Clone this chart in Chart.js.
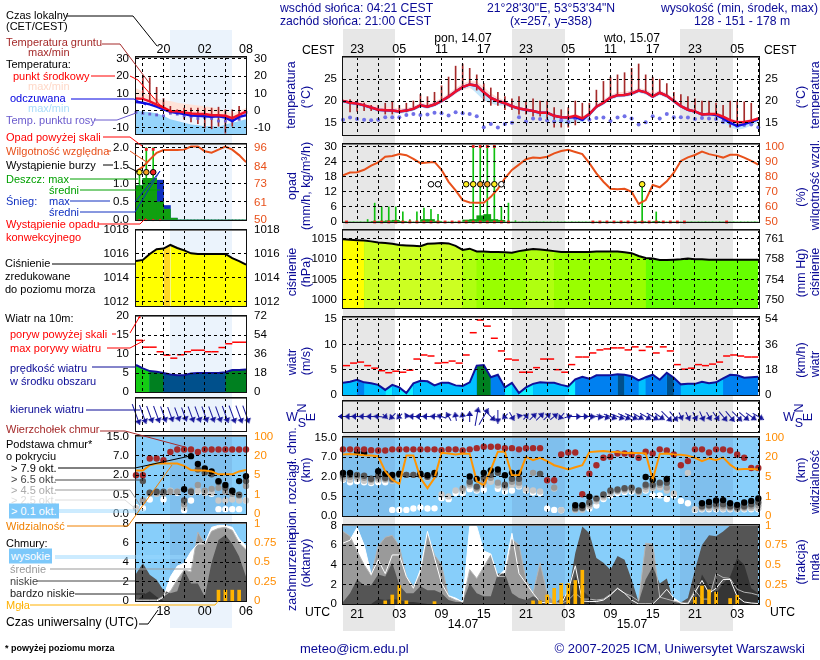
<!DOCTYPE html>
<html lang="pl">
<head>
<meta charset="UTF-8">
<title>Meteogram ICM</title>
<style>
  html, body { margin: 0; padding: 0; background: #fff; }
  #page { position: relative; width: 820px; height: 660px; overflow: hidden; font-family: "Liberation Sans", Arial, sans-serif; }
  #page div, #page svg { position: absolute; }
  .t { white-space: nowrap; font-size: 11px; line-height: 13px; z-index: 7; }
  .rot { white-space: nowrap; font-size: 12.5px; line-height: 13px; color: #0a0a96; z-index: 7; transform: translate(-50%, -50%) rotate(-90deg); }
</style>
</head>
<body>
<div id="page"></div>
<script src="https://cdn.jsdelivr.net/npm/chart.js"></script>
<script>
// osie czasu
const cestRight = ["23","","05","","11","","17","","23","","05","","11","","17","","23","","05",""];
const utcRight = ["21","","03","","09","","15","","21","","03","","09","","15","","21","","03",""];
const hoursRight = [2,5,8,11,14,17,20,23,26,29,32,35,38,41,44,47,50,53,56,59];
const cestLeft = ["","20","","02","","08"];
const utcLeft = ["","18","","00","","06"];
const hoursLeft = [1,4,7,10,13,16];

// temperatura, panel prawy (60 godzin)
const tempMid = [20,19.6,19.4,19,18.5,18,17.9,17.8,17.6,17.8,18.2,19,18.7,19.2,20,21,22.2,23.2,23.8,23.5,22,20.7,20,19.5,18.8,18.3,18,17.7,17.3,17.3,16.6,16.3,16.2,16.6,16,17,18.7,19.6,20.8,21.3,21.4,21.7,22.4,22,21,21.9,21.2,20,18.8,18,17.6,16.9,17,17,16.4,15.6,15.1,15.2,15.5,16];
const tempHi = [20.5,20.2,20,19.7,19.2,18.8,18.7,18.5,18.3,18.4,18.8,19.6,19.3,19.9,20.7,21.8,23,24,24.6,24.5,23.2,21.8,20.8,20.1,19.3,18.8,18.5,18.2,17.7,17.7,17,16.7,16.6,17,16.5,17.5,19.3,20.3,21.5,22,22.1,22.4,23,22.7,21.8,22.5,21.8,20.6,19.3,18.5,18.1,17.3,17.4,17.3,16.7,16,15.5,15.6,15.8,16.3];
const tempLo = [19.6,19.3,19,18.7,18.2,17.7,17.6,17.4,17.3,17.4,17.8,18.6,18.3,18.8,19.5,20.4,21.6,22.6,23,22,20.2,19.4,19,18.9,18.4,17.9,17.6,17.3,17,17,16.2,15.9,15.8,16.1,15.6,16.6,18.2,19.2,20.3,20.9,21,21.3,22,21.5,20.6,21.4,20.7,19.6,18.4,17.6,17.2,16.5,16.6,16.6,16,15.3,14.8,14.9,15.2,15.7];
const feltMid = [20,19.6,19.4,19,18.5,18,17.9,17.8,17.6,17.8,18.2,19,18.7,19.2,20,21,22.2,23.2,23.8,23.5,22,20.7,20,19.5,18.8,18.3,18,17.7,17.3,17.3,16.6,16.3,16.2,16.3,15.7,17,18.7,19.6,20.8,21.3,21.4,21.7,22.4,22,21,21.9,21.2,20,18.8,18,17.6,16.9,17,16.8,16,15,14.3,14.7,15.2,15.8];
const feltLo = [19.5,19.1,18.9,18.5,18,17.5,17.4,17.3,17.1,17.3,17.7,18.5,18.2,18.7,19.5,20.5,21.7,22.7,23.3,21.7,20.2,19.5,19,19,18.3,17.8,17.5,17.2,16.5,16,15.4,15,14.6,15.2,15,16.3,18.2,19.1,20.3,20.8,20.9,21.2,21.9,21.5,20.5,21.4,20.7,19.5,18.3,17.5,17.1,16.4,16.5,16.2,15.2,14,13.4,13.7,14.4,15];
const dewPoint = [15.7,16.2,15.9,15.7,15.6,15.7,16.3,16.3,16.3,16.8,17,16.8,16.9,17.3,17.2,16.7,17.4,17.2,17,16.5,14,14.7,13.9,14.7,15,16.3,15.3,16,15.9,15.5,15.3,15.5,15.2,16,15.8,15.7,16.1,16.2,15.4,16.2,16.5,16,14.6,15.1,16.5,16,17,16.3,16.3,16.2,15.9,16.1,16,15.9,15.2,15,14.3,14.5,14.6,14];
const groundMax = [null,20.3,20,19.5,19,19,19.5,19.7,19,19.5,20,21.5,21,22,23.5,25.5,28,28.5,27.5,26,24,23,22,21,20.5,21,20,20.5,20,20,18.5,18,18.5,20,19.5,19.5,22.5,24.5,25.5,26,26.5,27.5,28.5,26,25.5,25,24,22,21.5,21,20.5,20,20,19.5,19,20,20,19.8,19.5,null];
const groundMin = [null,17.5,17.6,17.8,17.8,17.7,17,17,17.5,17.5,18,19,18.5,19,20,21,22.3,23.2,23.8,22.5,20,19,19,18,18,17,17,16.5,16.5,15.5,14,14,14,14.5,15.5,16.5,18.5,19.6,20.8,21.3,21.5,21.7,22.4,22,21,21.9,21,20,18.8,18,17.6,17,17,16.5,15.5,14,15,15.2,15.5,null];

// opad i wilgotnosc, panel prawy
const humidity = [81,82.8,83,84.6,87.4,89.5,93.3,93.8,95,94.3,91.8,89,89.5,89.8,84.5,76.6,71,64.5,63,62.8,62.7,66.7,72,79,84.5,88,91.6,92.8,92.4,93.3,95.5,97,97.8,96.4,95,89,82.2,76.7,72,71.7,72,70,62,64.5,74.5,73,77,82.7,90.5,92.8,94.4,96.7,95,94,92.7,94.6,94.6,92.7,90.5,88];
const rainMax = [0,0,0,1,7.5,6,6,6,4,1,4,5.5,5,3,0,0,0,0,31,31,31,31,6,7.5,0.5,0,0,0,0,0,0,0,0,0,0,0,0,0,0,0,0,0,14,0,4,0,0,0,0,0,0,0,0,0,0,0,0,0,0];
const rainMean = [0,0,0,0,0.1,0.3,0.5,0.7,0.1,0,0,1,1,0.3,0,0,0,0.8,1,2.5,3,1,0.7,0,0,0,0,0,0,0,0,0,0,0,0,0,0,0,0,0,0,0,0.2,0,0.1,0,0,0,0,0,0,0,0,0,0,0,0,0,0];
const overScale = [18,19,20,21];
const convective = [0,4,5,6,7,8,9,10,11,12,13,14,15,16,17,18,19,20,21,22,23,35,36,37,38,39,40,41,42,43,44,45,46,47,48,54];
const stormHours = [12,13,17,18,19,20,21,22,42];
const stormColors = ["#fff","#fff","#ffee22","#ffee22","#f0a020","#f0a020","#ffee22","#fff","#ffee22"];

// cisnienie, panel prawy
const pressure = [1014.9,1014.8,1014.7,1014.6,1014.4,1014.1,1014,1013.8,1013.5,1013.4,1013.3,1013.2,1013.8,1013.9,1014,1013.9,1013.3,1012.3,1012.6,1011.9,1011.9,1011.8,1011.8,1011.7,1011.6,1012,1012.3,1012.5,1012.4,1012.2,1012,1011.8,1011.8,1011.8,1011.8,1011.8,1011.9,1011.9,1011.9,1011.9,1011.7,1011.5,1010.8,1010.3,1010.2,1009.8,1009.8,1009.9,1010,1010.2,1010,1010,1009.9,1009.9,1009.9,1009.9,1009.9,1009.9,1009.9,1009.9];

// wiatr, panel prawy
const wind = [2.4,2.6,3,2.5,2.3,2,1,2,1.5,0.4,2.3,2.8,2.7,1.9,2.4,2.4,1.9,1.8,2.5,5.8,5.9,3.5,4,1.5,2.4,0.4,1.5,2.2,2.5,2.4,2.4,2,1.7,3.1,3.6,3.2,3.9,3.9,3.9,4.1,4,3.7,2.9,3.5,4,3,4.4,3.4,2.1,2.2,2.2,2.6,2.3,2.5,3.3,4,3.9,3.4,3.5,3.6];
const gusts = [5.8,6.3,6.5,5.8,5.3,4.8,4.4,4.7,4.5,4.9,7.1,7.9,7.7,6.3,6.4,6.7,6.3,7.9,12.3,14.8,13.6,11.2,8.7,7.1,6.9,4.5,4.5,5.4,7.1,7.1,5,4.5,6,7.5,7.5,8.3,8.9,9.1,9.3,9.3,8.9,9.5,8.8,9.5,8.3,9.5,8.7,6,5.1,5.3,6,5.8,6.1,6.5,7.7,7.9,7.7,7.5,7.5];
const windFrom = [90,90,92,92,92,95,315,45,45,30,92,90,92,95,110,150,170,170,180,190,210,315,0,45,330,20,220,225,225,225,230,40,250,270,270,275,280,285,290,290,295,295,300,300,300,305,315,320,335,335,335,335,330,325,320,320,315,310,305,300];

// chmury, panel prawy: wartosci w jednostkach osi (0=0, 1=0.5, 2=2, 3=7, 4=15 km)
const cloudTop = [3.4,3.4,3.4,3.4,3.36,3.34,3.34,3.4,3.4,3.4,3.4,3.4,3.4,3.4,3.36,3.4,3.4,3.34,3.4,3.46,3.53,3.53,3.53,3.46,3.46,3.4,3.46,3.46,3.46,1.82,1.82,3.14,3.24,3.24,1.11,2.16,2.59,2.97,3.02,3.19,3.19,3.14,2.97,3.28,3.19,3.4,3.34,3.14,2.59,2.8,3.4,3.4,3.24,3.4,3.4,3.34,3.14,2.97,2.45,2.45];
const cloudBlack = [2.2,2.2,3.26,3.22,null,2.28,2.16,2.09,2.16,null,null,2.16,2.08,2.2,null,null,null,null,2.02,1.89,2.2,2.33,2.37,2.08,2.2,2.2,null,null,null,null,null,null,null,0.55,0.55,0.99,null,null,null,null,null,null,null,1.99,1.85,null,1.89,null,null,null,null,0.65,0.72,0.79,0.81,0.65,0.57,0.69,0.77,0.89];
const cloudDark = [2.1,2.1,2.1,2.05,1.9,2.05,1.95,1.9,2.1,2.1,2.1,2.1,2,2.1,null,null,null,null,1.75,1.5,1.95,2.1,2.2,1.6,1.9,1.9,null,null,2.15,null,null,null,null,0.4,0.42,0.7,0.9,1.1,1.3,1.35,1.42,1.45,1.3,1.6,1.6,1.7,1.7,null,null,null,null,0.5,0.55,0.6,0.6,0.5,0.45,0.5,0.6,0.7];
const cloudMid = [2,2,2,1.95,1.85,1.95,1.9,1.85,2.1,2.1,2.1,2.08,2,2.1,null,null,null,1.4,1.65,1.42,1.75,1.95,1.7,1.55,1.75,1.7,null,2.2,2.15,null,1.45,null,null,0.35,0.38,0.6,0.85,1.05,1.25,1.3,1.38,1.4,1.25,1.5,1.5,1.6,1.45,null,null,null,null,0.45,0.5,0.5,0.5,0.45,0.4,0.45,0.5,0.55];
const cloudLight = [1.9,1.85,1.9,1.8,1.75,1.85,1.85,1.8,null,2.1,2.1,null,1.95,null,1.1,1,1.3,1.3,1.55,1.35,1.6,1.75,1.55,1.45,1.6,1.55,1.35,1.3,1.25,null,1.4,0.3,null,0.3,0.32,0.5,0.75,0.95,1.15,1.25,1.3,1.33,1.2,1.35,1.4,1.45,1.3,1.15,null,2.2,0.35,0.38,0.4,0.4,0.38,0.38,0.35,0.38,0.4,0.4];
const cloudWhite = [1.85,1.72,1.77,1.72,1.68,1.72,1.72,0.31,0.31,0.31,0.38,0.43,0.38,0.39,0.91,0.86,1.17,1.17,1.37,1.3,1.34,1.85,1.39,1.25,1.3,1.51,1.3,1.2,1.17,0.38,0.31,0.29,null,null,null,0.38,0.53,0.87,1.05,1.17,1.23,1.25,1.27,1.3,1.05,1.05,0.87,1.05,0.77,0.65,0.31,0.34,0.34,0.34,0.34,0.34,0.34,0.34,0.34,0.34];
const visibility = [3.14,3.16,3.14,3.1,3.09,3.05,2.28,1.85,1.63,3.09,3.09,1.94,1.42,1.94,3.22,3.19,3.14,3.19,3.17,1.77,1.56,2.37,3.28,3.28,2.08,2.08,3.02,2.85,2.97,2.8,2.59,2.49,2.37,2.49,2.59,3.26,3.29,3.31,3.28,3.26,3.22,3.22,3.22,3.19,1.85,3.17,3.19,3.14,3.12,3.07,2.97,2.8,2.94,2.85,2.99,2.62,2.37,2.4,2.4,2.37];

// zachmurzenie, panel prawy (oktanty), mgla (frakcja)
const cloudHigh = [6.2,6.5,7.8,6,3,4.5,3.1,5,5,2.8,1.6,3.5,7.4,4.7,2.1,0.85,0.6,0.2,7.9,7.9,5.4,5.1,2.8,3.5,7.2,3.1,2.1,1.1,0.2,0.1,0,0,1.4,3.9,0.3,0.25,0.25,0.4,0.9,1.6,1.1,0.4,0,0,0,0.7,1.5,0.6,0.1,0,1.2,2.4,1.1,1.6,2.5,2.5,0.75,0.2,0.1,0.05];
const cloudMed = [7.4,6.9,5.4,4,2.9,5.9,6.8,7,5.9,2.8,1.8,3.1,7.2,5,4,0.75,0.4,0.2,3.5,2.6,3.8,5,2.8,2.8,6.6,6,2.5,1.1,4.2,1.1,0.2,0.05,0.4,1.1,0.5,0.5,0.4,0.5,1,1.6,1.1,0.8,0.3,6.2,6.1,0.7,0.5,0.3,0.1,0.1,1.4,0.5,0.5,3.1,2.7,2.6,1.5,1.2,1.1,0.9];
const cloudLow = [0.2,1.1,2.5,1.9,1.9,3,2.8,4.2,1.9,1.1,1.1,1.8,1.4,1.4,1.1,0.4,0.2,0.2,2.1,1.1,0.8,0.8,3.1,3.1,1.1,0.6,0.4,0.8,0.4,0.1,0,0.6,1.1,5.2,7.9,7.2,4.7,4.2,3.5,4.9,4.5,2.5,0.2,2.5,3.8,2.1,2.6,0.2,0.15,0.6,3.5,6,7,6.9,7.4,8,8,8,8,8];
const cloudVeryLow = [0,0,0,0,0,0.5,0.4,0.5,0.4,0.2,0.2,0.1,0,0,0,0,0,0,0,0,0,0,0,0,0,0,0,0,0,0,0,0,0,2.8,1.4,0.7,0,0,0,0,0,0,0,0,0,0,0,0,0,0,0.3,3,1.8,1.1,2.1,2.8,4.7,4,1.6,1.1];
const fogHours = [6,7,8,9,13,27,28,29,30,31,32,33,34,50,51,52,53,55,56];
const fogValues = [0.04,0.115,0.235,0.04,0.03,0.04,0.04,0.115,0.2,0.26,0.26,0.3,0.43,0.085,0.23,0.18,0.15,0.07,0.11];

// panel lewy (legenda, 17 godzin)
const tempMidL = [7,6.8,5.4,3.5,1.8,-0.3,-0.4,-1,-1.7,-2,-2,-2.6,-2.6,-3,-4.3,-2.4,-0.5];
const feltMidL = [5,4.6,3.6,2.3,0.7,-0.7,-1.3,-2,-2.8,-3,-3.2,-3.5,-3.3,-4,-6,-3.6,-2.7];
const tempHiL = [13,11,8.5,7,6,5.5,4.5,4,3.5,3,2.5,2,1,0,-2,0,1.5];
const feltHiL = [0,-0.5,-1,-1.5,-3,-5,-6,-7,-8,-8.5,-9,-9,-9.5,-8,-7,-6,-5];
const feltLoL = [-13.5,-13.5,-13.5,-13.5,-13.5,-13.5,-13.5,-13.5,-13.5,-13.5,-13.5,-13.5,-13.5,-13.5,-13.5,-13.5,-13.5];
const dewPointL = [-1,-1.5,-2,-2.5,-3,-1.5,-2,-3,-3.5,-4.5,-4,-4.5,-6,-6,-6,-5,-1];
const groundMaxL = [null,20,19,13.5,7,2.5,0.5,1.5,1.5,1.5,1.5,1.5,2,0.5,0.5,2.5,null];
const groundMinL = [null,6.5,5,3,1,-1,-2,-5,-6.5,-7.5,-10,-10.5,-9,-13,-9,-4,null];
const humidityL = [81,84,88.6,93,94.7,94.7,94.7,95,97,97,94,93,95,97,95,91.5,87];
const rainMeanL = [0.95,1.15,1.15,0.5,0.3,0.05,0,0,0,0,0,0,0,0,0,0];
const snowMeanL = [0,0,0,0.6,0.1,0,0,0,0,0,0,0,0,0,0,0];
const rainMaxL = [1.3,2,2,0,0,0,0,0,0,0,0,0,0,0,0,0];
const stormHoursL = [0,1,2];
const stormColorsL = ["#ffee22","#f0a020","#ee2020"];
const convectiveL = [0,1,2,3];
const pressureL = [1015.4,1015.5,1016,1016.4,1016.45,1016.75,1016.5,1016.3,1016.05,1016,1016,1016,1016,1016,1015.65,1015.4,1015.1];
const windL = [7.1,6.2,5.5,5.3,5,4.6,4.4,4.4,4.9,5,5,5,5,5.2,5.8,5.8,5.9];
const gustsL = [13.6,11.8,11.8,10.6,9.7,8.9,9.8,10.6,11,11,10.6,10.6,11.7,12.7,13.1,13.1];
const windFromL = [340,340,340,340,340,340,340,340,340,340,340,340,340,340,340,340,340];
const cloudTopL = [2,2,2.87,2.87,2.78,3.2,3.33,3.33,3.33,3.2,3.33,3.33,3.33,3.33,3.33,3.33,3.33];
const cloudBlackL = [null,null,null,null,null,null,null,1.28,2.99,2.58,2.35,2.2,1.7,1.5,1.2,1.7,1.95];
const cloudDarkL = [null,1.7,1.1,1.15,1.15,null,null,0.7,1.15,2.3,2.15,2.05,1.65,1.35,1.15,1,1.7];
const cloudMidL = [null,0.7,1.1,1.1,1.1,1.15,1.15,0.5,1.2,1.5,1.2,1.3,1.35,1.15,1.05,0.95,1.45];
const cloudLightL = [0.3,0.65,1.05,1.05,1.05,1.2,1.15,0.35,1.1,1.2,1.1,1.1,0.7,0.7,0.75,0.7,0.7];
const cloudWhiteL = [0.35,0.3,0.75,null,0.75,1.15,1.1,0.2,0.7,1.15,1.1,1.05,0.25,0.25,0.25,0.25,0.7];
const visibilityL = [2.25,2.25,2.52,2.61,2.61,2.61,2.61,2.49,2.27,2.25,2.25,2.2,2.05,2.05,2.05,2.2,2.27];
const cloudHighL = [0,0,0,0,0.4,2.5,3.6,3.9,5.1,5.9,5.9,7.6,7.8,7.8,7.6,6.4,5.7];
const cloudMedL = [0.1,0.1,0.1,0.1,0.5,1,2.2,3.2,3,7.1,5.9,7.2,7.5,7.6,7.3,6,5.3];
const cloudLowL = [2.8,3.9,2.7,2.2,1.1,0.8,1,3.2,1.8,1.8,0.45,4,6.3,6.8,5.9,4.6,2.5];
const cloudVeryLowL = [0,0.6,1,0.45,0,0,0,0,0,0,0,0,0,0,0,0,0];
const fogHoursL = [12,13,14,15];
const fogValuesL = [0.14,0.14,0.14,0.14];

// teksty i kreski legendy: [tekst, x, y, kolor]
const labels = [
  ["Czas lokalny",6,15,"#000"],["(CET/CEST)",6,26,"#000"],
  ["Temperatura gruntu",6,42,"#a52a2a"],["max/min",28,52,"#a52a2a"],
  ["Temperatura:",6,64,"#000"],["punkt środkowy",13,76,"#f00"],["max/min",28,86,"#ffd8c8"],
  ["odczuwana",10,98,"#0000e0"],["max/min",28,108,"#a8dcfa"],["Temp. punktu rosy",6,120,"#6a5acd"],
  ["Opad powyżej skali",6,137,"#f00"],["Wilgotność względna",6,151,"#e8501a"],["Wystąpienie burzy",6,165,"#000"],
  ["Deszcz:  max",6,179,"#00a000"],["średni",49,190,"#00a000"],["Śnieg:",6,201,"#1030c0"],["max",49,201,"#1030c0"],["średni",49,212,"#1030c0"],
  ["Wystąpienie opadu",6,224,"#f00"],["konwekcyjnego",6,237,"#f00"],
  ["Ciśnienie",5,263,"#000"],["zredukowane",5,276,"#000"],["do poziomu morza",5,289,"#000"],
  ["Wiatr na 10m:",5,318,"#000"],["poryw powyżej skali",10,334,"#f00"],["max porywy wiatru",10,348,"#f00"],
  ["prędkość wiatru",10,368,"#0a0a96"],["w środku obszaru",10,381,"#0a0a96"],["kierunek wiatru",10,409,"#0a0a96"],
  ["Wierzchołek chmur",6,429,"#a52a2a"],["Podstawa chmur*",6,444,"#000"],["o pokryciu",6,456,"#000"],
  ["> 7.9 okt.",11,468,"#000"],["> 6.5 okt.",11,479,"#444"],["> 4.5 okt.",11,490,"#aaa"],["> 2.5 okt.",11,500,"#ddd"],
  ["Widzialność",6,526,"#f08000"],["Chmury:",6,543,"#000"],["średnie",10,569,"#999"],["niskie",10,581,"#444"],["bardzo niskie",10,593,"#222"],
  ["Mgła",6,605,"#ffb000"]
];
const headers = [
  ["wschód słońca: 04:21 CEST",280,8,"#0a0a96"],["zachód słońca: 21:00 CEST",280,21,"#0a0a96"],
  ["Czas uniwersalny (UTC)",6,622,"#000"],["CEST",302,50,"#000"],["CEST",764,50,"#000"],["UTC",305,612,"#000"],["UTC",770,612,"#000"]
];
const centered = [
  ["21°28'30\"E, 53°53'34\"N",551,8,"#0a0a96"],["(x=257, y=358)",551,21,"#0a0a96"],
  ["128 - 151 - 178 m",742,21,"#0a0a96"],
  ["pon, 14.07",463,38,"#000"],["wto, 15.07",632,38,"#000"],["14.07",463,624,"#000"],["15.07",632,624,"#000"]
];
const rotated = [
  ["temperatura",291,95],["(°C)",306,97],["(°C)",801,97],["temperatura",815,95],
  ["opad",292,186],["(mm/h, kg/m³/h)",306,186],["(%)",801,197],["wilgotność wzgl.",815,185],
  ["ciśnienie",292,272],["(hPa)",306,272],["(mm Hg)",801,273],["ciśnienie",815,272],
  ["wiatr",292,362],["(m/s)",306,361],["(km/h)",801,360],["wiatr",815,364],
  ["pion. rozciągł. chm.",292,481],["(km)",306,470],["(km)",801,470],["widzialność",815,482],
  ["zachmurzenie",292,572],["(oktanty)",306,563],["(frakcja)",801,562],["mgła",815,567]
];
const leaders = [
  ["#000","66,16 133,16 157,46"],["#a52a2a","102,44 120,44 150,84"],["#f00","91,76 115,76"],["#f00","130,76 138,80 160,105 172,112"],
  ["#0000e0","71,99 134,99 146,105"],["#6a5acd","94,120 117,120 136,113"],["#f00","103,137 130,137 142,146"],
  ["#e8501a","107,151 111,151"],["#e8501a","130,151 148,163"],["#000","103,165 113,165"],["#000","128,167 138,172"],
  ["#00a000","70,179 138,179"],["#00a000","80,190 160,190"],["#1030c0","70,201 110,201"],["#1030c0","135,202 160,171"],["#1030c0","80,212 135,212 160,171"],
  ["#f00","98,224 140,224 146,218"],["#000","52,264 135,264"],["#f00","112,334 116,334"],["#f00","130,333 140,316"],["#f00","107,348 130,348 145,340"],
  ["#0a0a96","92,367 136,367"],["#0a0a96","86,410 140,410"],["#a52a2a","100,431 125,431 185,447"],["#000","58,468 135,468 190,456"],
  ["#444","55,480 143,480"],["#999","55,490 130,490 140,505"],["#ddd","55,500 125,500 137,510"],["#9ad8ff","55,510 145,510"],["#9ad8ff","55,512 145,512"],
  ["#f08000","67,526 128,526 172,465"],["#9ad8ff","55,556 185,556"],["#9ad8ff","55,558 185,558"],["#999","50,569 193,569"],["#444","37,581 135,581"],
  ["#222","75,594 145,594"],["#ffb000","30,605 215,605 219,600"],["#000","139,624 148,624 158,610"]
];

const page = document.getElementById("page");

function box(x, y, w, h, css, z) {
  const d = document.createElement("div");
  d.style.cssText = "left:" + x + "px;top:" + y + "px;width:" + w + "px;height:" + h + "px;z-index:" + z + ";" + css;
  page.appendChild(d);
  return d;
}

// pasy nocy
box(170, 30, 62, 598, "background:#ebf3fc", 1);
[[343,395],[512,565],[680,733]].forEach(b => box(b[0], 29, b[1] - b[0], 602, "background:#e7e7e7", 1));

const pts = (arr, off) => arr.map((v, i) => ({x: i + (off || 0), y: v}));
const at = (hours, arr, off) => hours.map((h, i) => ({x: h + (off || 0), y: arr[i]}));
const floats = (lo, hi) => lo.map((v, i) => ({x: i, y: v === null ? null : [v, hi[i]]}));

const line = (data, color, width, extra) => Object.assign({type: "line", data: data, borderColor: color, borderWidth: width, pointRadius: 0, tension: 0, fill: false}, extra);
const area = (data, color, extra) => line(data, "transparent", 0, Object.assign({fill: "start", backgroundColor: color}, extra));
const dots = (data, color, radius, extra) => line(data, color, 0, Object.assign({showLine: false, pointRadius: radius, pointBackgroundColor: color, pointBorderColor: color, pointBorderWidth: 0, clip: false}, extra));
const bars = (data, color, width, extra) => Object.assign({type: "bar", data: data, backgroundColor: color, barThickness: width, grouped: false}, extra);

function arrowImage(len) {
  const c = document.createElement("canvas");
  c.width = 7; c.height = len;
  const g = c.getContext("2d");
  g.strokeStyle = g.fillStyle = "#14149a";
  g.lineWidth = 1;
  g.beginPath(); g.moveTo(3.5, 0); g.lineTo(3.5, len); g.stroke();
  g.beginPath(); g.moveTo(3.5, len); g.lineTo(0, len - 5); g.lineTo(7, len - 5); g.closePath(); g.fill();
  return c;
}
const arrows = (speed, from) => dots(pts(speed.map(() => 0)), "#14149a", 2, {
  pointStyle: speed.map(s => arrowImage(Math.round(s * 2.6) + 4)), pointRotation: from
});

const windColor = s => s < 1.8 ? "#10f0ff" : s < 3 ? "#00c0ff" : s < 4.05 ? "#0080f0" : s < 5.2 ? "#00508c" : s < 6.1 ? "#008020" : "#14cc14";
const pressColor = p => p >= 1014.7 ? "#ffff00" : p >= 1013 ? "#ccff22" : p >= 1012.1 ? "#b0ff10" : p >= 1010.5 ? "#99ff00" : "#66ff00";
const pressColorL = (p, q) => q > 1016.7 ? "#ffd822" : "#ffff00";

function panel(cfg) {
  // zapas nad i pod osia, zeby etykiety ticków nie zwezaly obszaru wykresu
  const margin = 46, topPad = 18, botPad = 18;
  const xH = cfg.xLabels ? 19 : 0;
  const holder = box(cfg.x - margin, cfg.y - topPad - (cfg.xPos === "top" ? xH : 0), cfg.w + 2 * margin, cfg.h + topPad + botPad + xH, "", 4);
  const canvas = document.createElement("canvas");
  canvas.width = cfg.w + 2 * margin;
  canvas.height = cfg.h + topPad + botPad + xH;
  holder.appendChild(canvas);
  canvas.style.display = "block";
  box(cfg.x - 1, cfg.y - 1, cfg.w, cfg.h, "border:1px solid #111;box-shadow:inset 0 1px #777", 5);

  const n = cfg.datasets.length;
  cfg.datasets.forEach((d, i) => { d.order = n - i; d.xAxisID = "x"; d.yAxisID = d.yAxisID || "y"; });

  const yAxis = (ax, pos, grid) => ({
    position: pos, min: ax.min, max: ax.max,
    grid: grid ? {display: true, color: "#000", z: 1, drawTicks: false, offset: false} : {display: false, drawTicks: false},
    border: {display: false, dash: [3, 3]},
    afterFit: s => { s.width = margin; },
    afterBuildTicks: s => { s.ticks = ax.ticks.map(v => ({value: v})); },
    ticks: {autoSkip: false, color: ax.color || "#000", padding: ax.pad || 4, font: {family: "Liberation Sans", size: 11.5}, callback: (v, i) => ax.labels[i]}
  });

  new Chart(canvas, {
    type: "line",
    data: {datasets: cfg.datasets},
    options: {
      responsive: false, animation: false, events: [], parsing: {xAxisKey: "x", yAxisKey: "y"},
      layout: {padding: {top: topPad, bottom: botPad, left: 0, right: 0}, autoPadding: false},
      plugins: {legend: {display: false}, tooltip: {enabled: false}},
      scales: {
        x: {
          type: "linear", offset: false, position: cfg.xPos || "bottom", min: 0, max: cfg.xMax,
          grid: {display: true, color: "#000", z: 1, drawTicks: false, offset: false},
          border: {display: false, dash: [3, 3]},
          afterFit: s => { s.height = xH; },
          afterBuildTicks: s => { s.ticks = cfg.xTicks.map(v => ({value: v})); },
          ticks: {display: !!cfg.xLabels, autoSkip: false, maxRotation: 0, padding: cfg.xPos === "top" ? 0 : 3, color: "#000", font: {family: "Liberation Sans", size: 12.5}, callback: (v, i) => cfg.xLabels ? cfg.xLabels[i] : ""}
        },
        y: yAxis(cfg.left, "left", true),
        y2: yAxis(cfg.right, "right", false)
      }
    }
  });
}

const cloudLabels = ["0.0","0.5","2.0","7.0","15.0"];
const visLabels = ["0","1","5","20","100"];
const levels = [0,1,2,3,4];
const fogTicks = [0,2,4,6,8];
const R = {x: 343, w: 416, xMax: 59.1, xTicks: hoursRight};
const L = {x: 136, w: 110, xMax: 16, xTicks: hoursLeft};

// temperatura
panel(Object.assign({}, R, {y: 57, h: 78, xPos: "top", xLabels: cestRight,
  left: {min: 12.2, max: 30.1, ticks: [15,20,25], labels: ["15","20","25"], pad: 6},
  right: {min: 12.2, max: 30.1, ticks: [15,20,25], labels: ["15","20","25"], pad: 6},
  datasets: [
    line(pts(tempLo), "transparent", 0),
    line(pts(tempHi), "transparent", 0, {fill: {target: 0}, backgroundColor: "#ffdcd6"}),
    line(pts(feltLo), "transparent", 0),
    line(pts(feltMid), "transparent", 0, {fill: {target: 2}, backgroundColor: "#c4e6fb"}),
    bars(floats(groundMin, groundMax), "#a52a2a", 1),
    dots(pts(dewPoint), "#7070e8", 2),
    line(pts(feltMid), "#1010e0", 2.5),
    line(pts(tempMid), "#f0102a", 2.5)
  ]}));
panel(Object.assign({}, L, {y: 57, h: 77, xPos: "top", xLabels: cestLeft,
  left: {min: -13.5, max: 31, ticks: [-10,0,10,20,30], labels: ["-10","0","10","20","30"], pad: 7},
  right: {min: -13.5, max: 31, ticks: [-10,0,10,20,30], labels: ["-10","0","10","20","30"], pad: 8},
  datasets: [
    line(pts(tempMidL), "transparent", 0),
    line(pts(tempHiL), "transparent", 0, {fill: {target: 0}, backgroundColor: "#ffe2d8"}),
    line(pts(feltLoL), "transparent", 0),
    line(pts(feltHiL), "transparent", 0, {fill: {target: 2}, backgroundColor: "rgba(130,205,250,.85)"}),
    bars(floats(groundMinL, groundMaxL), "#a52a2a", 1),
    dots(pts(dewPointL), "#6a5acd", 2, {pointStyle: "rect"}),
    line(pts(feltMidL), "#1010e0", 2.5),
    line(pts(tempMidL), "#f0102a", 2.5)
  ]}));

// opad
panel(Object.assign({}, R, {y: 144, h: 78,
  left: {min: 0, max: 31, ticks: [0,6,12,18,24,30], labels: ["0","6","12","18","24","30"], pad: 6},
  right: {min: 50, max: 101.7, ticks: [50,60,70,80,90,100], labels: ["50","60","70","80","90","100"], color: "#e8501a", pad: 6},
  datasets: [
    bars(pts(rainMax, 0.5), "#10c010", 1),
    bars(pts(rainMean, 0.5), "#10a010", 7),
    dots(at(convective, convective.map(() => 0), 0.5), "#ee2020", 2, {pointStyle: "rect"}),
    dots(at(overScale, overScale.map(() => 30), 0.5), "#ee2020", 2, {pointStyle: "rect"}),
    line(pts(humidity), "#e8501a", 2, {yAxisID: "y2"}),
    dots(at(stormHours, stormHours.map(() => 15), 0.5), "#000", 2.8, {pointBackgroundColor: stormColors, pointBorderColor: "#000", pointBorderWidth: 1})
  ]}));
panel(Object.assign({}, L, {y: 144, h: 76,
  left: {min: 0, max: 2.1, ticks: [0,0.5,1,1.5,2], labels: ["0.0","0.5","1.0","1.5","2.0"], pad: 7},
  right: {min: 50, max: 98.6, ticks: [50,61,73,84,96], labels: ["50","61","73","84","96"], color: "#e8501a", pad: 8},
  datasets: [
    bars(pts(rainMaxL, 0.5), "#10c010", 1),
    bars(pts(snowMeanL.map((s, i) => s + rainMeanL[i]), 0.5), "#1030c0", 7),
    bars(pts(rainMeanL, 0.5), "#10a010", 7),
    dots(at(convectiveL, convectiveL.map(() => 0), 0.5), "#ee2020", 1.5, {pointStyle: "rect"}),
    dots(at([1,2], [1.95,1.95], 0.5), "#ee2020", 2, {pointStyle: "rect"}),
    line(pts(humidityL), "#e8501a", 2, {yAxisID: "y2"}),
    dots(at(stormHoursL, [1.32,1.32,1.32], 0.5), "#000", 2.8, {pointBackgroundColor: stormColorsL, pointBorderColor: "#000", pointBorderWidth: 1})
  ]}));

// cisnienie
panel(Object.assign({}, R, {y: 230, h: 78,
  left: {min: 998, max: 1017.2, ticks: [1000,1005,1010,1015], labels: ["1000","1005","1010","1015"], pad: 6},
  right: {min: 998, max: 1017.2, ticks: [1000,1005,1010,1015], labels: ["750","754","758","761"], pad: 6},
  datasets: [
    area(pts(pressure), "#99ff00"),
    area(pts(pressure), "#99ff00", {segment: {backgroundColor: c => pressColor(c.p0.parsed.y)}}),
    line(pts(pressure), "#000", 2)
  ]}));
panel(Object.assign({}, L, {y: 230, h: 76,
  left: {min: 1011.65, max: 1018, ticks: [1012,1014,1016,1018], labels: ["1012","1014","1016","1018"], pad: 7},
  right: {min: 1011.65, max: 1018, ticks: [1012,1014,1016,1018], labels: ["1012","1014","1016","1018"], pad: 8},
  datasets: [
    area(pts(pressureL), "#ffff00", {segment: {backgroundColor: c => pressColorL(c.p0.parsed.y, c.p1.parsed.y)}}),
    line(pts(pressureL), "#000", 2)
  ]}));

// wiatr
panel(Object.assign({}, R, {y: 317, h: 78,
  left: {min: 0, max: 15.4, ticks: [0,5,10,15], labels: ["0","5","10","15"], pad: 6},
  right: {min: 0, max: 15.4, ticks: [0,5,10,15], labels: ["0","18","36","54"], pad: 6},
  datasets: [
    area(pts(wind), "#0098f8"),
    area(pts(wind), "#00c0ff", {segment: {backgroundColor: c => windColor(c.p0.parsed.y)}}),
    line(pts(wind), "#10109a", 2),
    dots(pts(gusts, 0.5), "#f00", 3.5, {pointStyle: "line", pointBorderColor: "#f00", pointBorderWidth: 1.5})
  ]}));
panel(Object.assign({}, L, {y: 316, h: 76,
  left: {min: 0, max: 20, ticks: [0,5,10,15,20], labels: ["0","5","10","15","20"], pad: 7},
  right: {min: 0, max: 20, ticks: [0,5,10,15,20], labels: ["0","18","36","54","72"], pad: 8},
  datasets: [
    area(pts(windL), "#00508c"),
    area(pts(windL), "#00508c", {segment: {backgroundColor: c => windColor(c.p0.parsed.y)}}),
    line(pts(windL), "#10109a", 2),
    dots(pts(gustsL, 0.5), "#f00", 3.5, {pointStyle: "line", pointBorderColor: "#f00", pointBorderWidth: 1.5}),
    dots(at([0], [19.7], 0.5), "#f00", 1.5, {pointStyle: "rect"})
  ]}));

// kierunek wiatru
panel(Object.assign({}, R, {y: 401, h: 31,
  left: {min: -1, max: 1, ticks: [], labels: []},
  right: {min: -1, max: 1, ticks: [], labels: []},
  datasets: [arrows(wind, windFrom)]}));
panel(Object.assign({}, L, {y: 398, h: 33,
  left: {min: -1, max: 1, ticks: [], labels: []},
  right: {min: -1, max: 1, ticks: [], labels: []},
  datasets: [arrows(windL, windFromL)]}));

// tlo panelu chmur
[[343,437,416,79],[343,525,416,79],[136,436,110,78],[136,523,110,78]].forEach(p => box(p[0], p[1], p[2], p[3], "background:#87cefa", 2));
[[343,395,437,79],[512,565,437,79],[680,733,437,79],[343,395,525,79],[512,565,525,79],[680,733,525,79],[170,232,436,78],[170,232,523,78]].forEach(b =>
  box(b[0], b[2], b[1] - b[0], b[3], "background:rgba(60,60,130,.1)", 3));

// podstawa chmur
function cloudDatasets(white, light, mid, dark, black, top, vis) {
  return [
    dots(pts(white), "#fff", 3.2),
    dots(pts(light), "#c8c8c8", 3.2),
    dots(pts(mid), "#999", 3.2),
    dots(pts(dark), "#555", 3.2),
    dots(pts(black), "#000", 3.2),
    dots(pts(top), "#a52a2a", 3.2),
    line(pts(vis), "#ff9400", 2, {yAxisID: "y2"})
  ];
}
panel(Object.assign({}, R, {y: 437, h: 79,
  left: {min: 0, max: 4.03, ticks: levels, labels: cloudLabels, pad: 6},
  right: {min: 0, max: 4.03, ticks: levels, labels: visLabels, color: "#ff8c00", pad: 6},
  datasets: cloudDatasets(cloudWhite, cloudLight, cloudMid, cloudDark, cloudBlack, cloudTop, visibility)}));
panel(Object.assign({}, L, {y: 436, h: 78,
  left: {min: 0, max: 4.03, ticks: levels, labels: cloudLabels, pad: 7},
  right: {min: 0, max: 4.03, ticks: levels, labels: visLabels, color: "#ff8c00", pad: 8},
  datasets: cloudDatasets(cloudWhiteL, cloudLightL, cloudMidL, cloudDarkL, cloudBlackL, cloudTopL, visibilityL)}));

// zachmurzenie
function coverDatasets(high, med, low, vlow, fogH, fogV) {
  return [
    area(pts(high), "#fff"),
    area(pts(med), "#9a9a9a"),
    area(pts(low), "#555"),
    area(pts(vlow), "#353535"),
    line(pts(med), "#b4b4b4", 1),
    line(pts(high), "#fff", 1),
    bars(at(fogH, fogV), "#ffb400", 3, {yAxisID: "y2"})
  ];
}
panel(Object.assign({}, R, {y: 525, h: 79, xLabels: utcRight,
  left: {min: 0, max: 8.05, ticks: fogTicks, labels: ["0","2","4","6","8"], pad: 6},
  right: {min: 0, max: 1.006, ticks: [0,0.25,0.5,0.75,1], labels: ["0","0.25","0.5","0.75","1"], color: "#ff8c00", pad: 6},
  datasets: coverDatasets(cloudHigh, cloudMed, cloudLow, cloudVeryLow, fogHours, fogValues)}));
panel(Object.assign({}, L, {y: 523, h: 78, xLabels: utcLeft,
  left: {min: 0, max: 8.05, ticks: fogTicks, labels: ["0","2","4","6","8"], pad: 7},
  right: {min: 0, max: 1.006, ticks: [0,0.25,0.5,0.75,1], labels: ["0","0.25","0.5","0.75","1"], color: "#ff8c00", pad: 8},
  datasets: coverDatasets(cloudHighL, cloudMedL, cloudLowL, cloudVeryLowL, fogHoursL, fogValuesL)}));

// teksty
function text(item, css, cls) {
  const d = document.createElement("div");
  d.className = cls || "t";
  d.textContent = item[0];
  d.style.cssText = "left:" + item[1] + "px;top:" + item[2] + "px;" + (item[3] ? "color:" + item[3] + ";" : "") + (css || "");
  page.appendChild(d);
  return d;
}
const big = "font-size:12.2px;";
labels.forEach(l => text(l, "transform:translateY(-50%)"));
headers.forEach(l => text(l, big + "transform:translateY(-50%)"));
centered.forEach(l => text(l, big + "transform:translate(-50%,-50%)"));
rotated.forEach(l => text(l, "", "rot"));
text(["wysokość (min, środek, max)", 0, 8, "#0a0a96"], big + "left:auto;right:2px;transform:translateY(-50%)");
text(["meteo@icm.edu.pl", 300, 648, "#0a0a96"], "font-size:13px;transform:translateY(-50%)");
text(["© 2007-2025 ICM, Uniwersytet Warszawski", 0, 648, "#0a0a96"], "font-size:13px;left:auto;right:15px;transform:translateY(-50%)");
text(["> 0.1 okt.", 11, 511, "#fff"], "transform:translateY(-50%);background:#7cc8fa;padding:1px 2px;margin-left:-2px");
text(["wysokie", 11, 556, "#fff"], "transform:translateY(-50%);background:#7cc8fa;padding:1px 2px;margin-left:-2px");
text(["* powyżej poziomu morza", 5, 648, "#000"], "transform:translateY(-50%);font-size:9px;font-weight:bold");

// roza wiatrow
[[292,417,"W"],[302,408,"N"],[302,423,"S"],[311,417,"E"],[789,417,"W"],[799,408,"N"],[799,423,"S"],[808,417,"E"]].forEach(p =>
  text([p[2], p[0], p[1], "#0a0a96"], "font-size:12.5px;transform:translate(-50%,-50%)" + (p[2] === "N" || p[2] === "E" ? " rotate(-90deg)" : "")));

// kreski legendy
const ns = "http://www.w3.org/2000/svg";
const svg = document.createElementNS(ns, "svg");
svg.setAttribute("width", 300); svg.setAttribute("height", 660);
svg.style.cssText = "left:0;top:0;z-index:6";
leaders.forEach(l => {
  const p = document.createElementNS(ns, "polyline");
  p.setAttribute("points", l[1]);
  p.setAttribute("fill", "none");
  p.setAttribute("stroke", l[0]);
  svg.appendChild(p);
});
page.appendChild(svg);
</script>
</body>
</html>
